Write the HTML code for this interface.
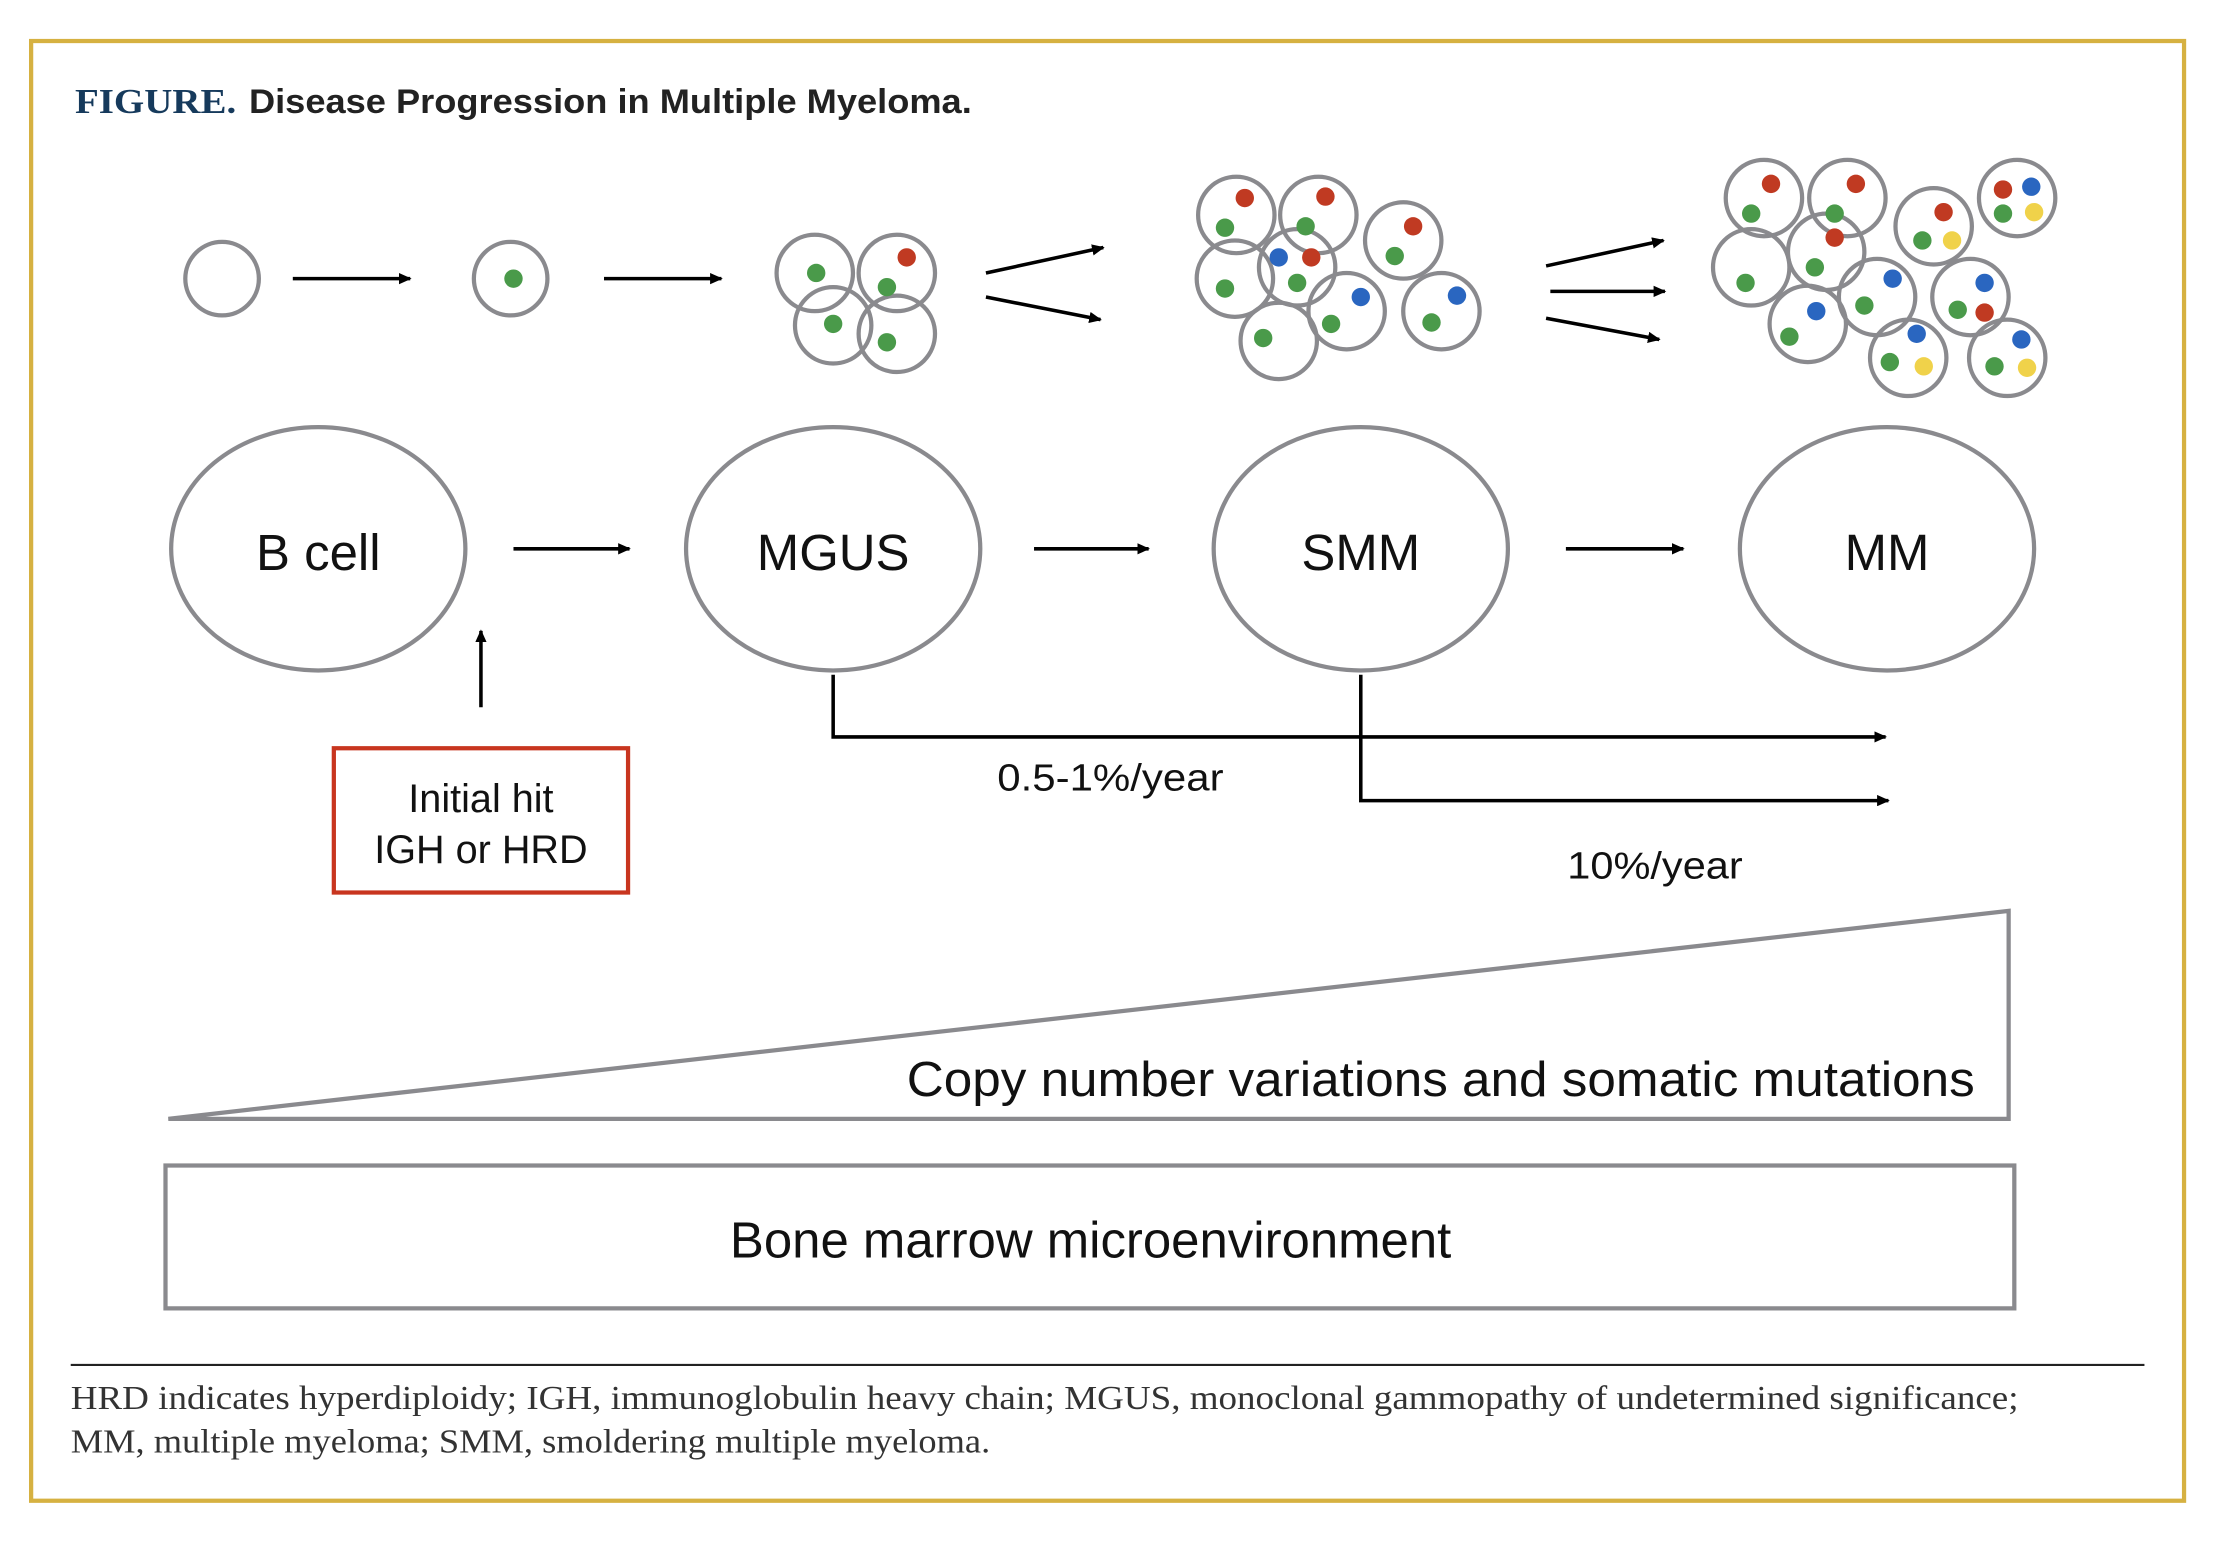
<!DOCTYPE html>
<html><head><meta charset="utf-8"><style>html,body{margin:0;padding:0;background:#fff}svg{display:block}</style></head><body>
<svg width="2218" height="1546" viewBox="0 0 1568 1093" preserveAspectRatio="none" xmlns="http://www.w3.org/2000/svg">
<defs><marker id="a" markerWidth="10" markerHeight="8" refX="8" refY="4" orient="auto" markerUnits="userSpaceOnUse"><path d="M0,0 L9,4 L0,8 z" fill="#000"/></marker></defs>
<rect x="22" y="29" width="1522" height="1032" fill="none" stroke="#d6b141" stroke-width="3"/>
<text x="53" y="80" font-family="Liberation Serif, serif" font-weight="bold" font-size="25" fill="#163a5c" textLength="114" lengthAdjust="spacingAndGlyphs">FIGURE.</text>
<text x="176" y="80" font-family="Liberation Sans, sans-serif" font-weight="bold" font-size="24" fill="#222" textLength="511" lengthAdjust="spacingAndGlyphs">Disease Progression in Multiple Myeloma.</text>
<g fill="none" stroke="#8a8a8e" stroke-width="3">
<circle cx="157" cy="197" r="26"/><circle cx="361" cy="197" r="26"/>
<circle cx="576" cy="193" r="27"/><circle cx="634" cy="193" r="27"/><circle cx="589" cy="230" r="27"/><circle cx="634" cy="236" r="27"/>
<circle cx="874" cy="152" r="27"/><circle cx="932" cy="152" r="27"/><circle cx="992" cy="170" r="27"/><circle cx="873" cy="197" r="27"/><circle cx="917" cy="189" r="27"/><circle cx="952" cy="220" r="27"/><circle cx="904" cy="241" r="27"/><circle cx="1019" cy="220" r="27"/>
<circle cx="1247" cy="140" r="27"/><circle cx="1306" cy="140" r="27"/><circle cx="1367" cy="160" r="27"/><circle cx="1426" cy="140" r="27"/><circle cx="1238" cy="189" r="27"/><circle cx="1291" cy="178" r="27"/><circle cx="1327" cy="210" r="27"/><circle cx="1393" cy="210" r="27"/><circle cx="1278" cy="229" r="27"/><circle cx="1349" cy="253" r="27"/><circle cx="1419" cy="253" r="27"/>
</g>
<g>
<g fill="#4a9a4a">
<circle cx="363" cy="197" r="6.5"/><circle cx="577" cy="193" r="6.5"/><circle cx="627" cy="203" r="6.5"/><circle cx="589" cy="229" r="6.5"/><circle cx="627" cy="242" r="6.5"/>
<circle cx="866" cy="161" r="6.5"/><circle cx="923" cy="160" r="6.5"/><circle cx="986" cy="181" r="6.5"/><circle cx="866" cy="204" r="6.5"/><circle cx="917" cy="200" r="6.5"/><circle cx="941" cy="229" r="6.5"/><circle cx="893" cy="239" r="6.5"/><circle cx="1012" cy="228" r="6.5"/>
<circle cx="1238" cy="151" r="6.5"/><circle cx="1297" cy="151" r="6.5"/><circle cx="1359" cy="170" r="6.5"/><circle cx="1416" cy="151" r="6.5"/><circle cx="1234" cy="200" r="6.5"/><circle cx="1283" cy="189" r="6.5"/><circle cx="1318" cy="216" r="6.5"/><circle cx="1384" cy="219" r="6.5"/><circle cx="1265" cy="238" r="6.5"/><circle cx="1336" cy="256" r="6.5"/><circle cx="1410" cy="259" r="6.5"/>
</g>
<g fill="#c03a22">
<circle cx="641" cy="182" r="6.5"/><circle cx="880" cy="140" r="6.5"/><circle cx="937" cy="139" r="6.5"/><circle cx="999" cy="160" r="6.5"/><circle cx="927" cy="182" r="6.5"/>
<circle cx="1252" cy="130" r="6.5"/><circle cx="1312" cy="130" r="6.5"/><circle cx="1374" cy="150" r="6.5"/><circle cx="1416" cy="134" r="6.5"/><circle cx="1297" cy="168" r="6.5"/><circle cx="1403" cy="221" r="6.5"/>
</g>
<g fill="#2a66c0">
<circle cx="904" cy="182" r="6.5"/><circle cx="962" cy="210" r="6.5"/><circle cx="1030" cy="209" r="6.5"/>
<circle cx="1436" cy="132" r="6.5"/><circle cx="1338" cy="197" r="6.5"/><circle cx="1403" cy="200" r="6.5"/><circle cx="1284" cy="220" r="6.5"/><circle cx="1355" cy="236" r="6.5"/><circle cx="1429" cy="240" r="6.5"/>
</g>
<g fill="#f0d24a">
<circle cx="1380" cy="170" r="6.5"/><circle cx="1438" cy="150" r="6.5"/><circle cx="1360" cy="259" r="6.5"/><circle cx="1433" cy="260" r="6.5"/>
</g>
</g>
<g stroke="#000" stroke-width="2.5" marker-end="url(#a)">
<line x1="207" y1="197" x2="290" y2="197"/><line x1="427" y1="197" x2="510" y2="197"/>
<line x1="697" y1="193" x2="780" y2="175"/><line x1="697" y1="210" x2="778" y2="226"/>
<line x1="1093" y1="188" x2="1176" y2="170"/><line x1="1096" y1="206" x2="1177" y2="206"/><line x1="1093" y1="225" x2="1173" y2="240"/>
<line x1="363" y1="388" x2="445" y2="388"/><line x1="731" y1="388" x2="812" y2="388"/><line x1="1107" y1="388" x2="1190" y2="388"/>
<line x1="340" y1="500" x2="340" y2="446"/>
<polyline fill="none" points="589,477 589,521 1333,521"/>
<polyline fill="none" points="962,477 962,566 1335,566"/>
</g>
<g fill="none" stroke="#8a8a8e" stroke-width="3">
<ellipse cx="225" cy="388" rx="104" ry="86"/><ellipse cx="589" cy="388" rx="104" ry="86"/><ellipse cx="962" cy="388" rx="104" ry="86"/><ellipse cx="1334" cy="388" rx="104" ry="86"/>
<polygon points="119,791 1420,644 1420,791"/>
<rect x="117" y="824" width="1307" height="101"/>
</g>
<rect x="236" y="529" width="208" height="102" fill="none" stroke="#c8351f" stroke-width="3"/>
<g font-family="Liberation Sans, sans-serif" fill="#111" text-anchor="middle">
<text x="225" y="403" font-size="36">B cell</text><text x="589" y="403" font-size="36">MGUS</text><text x="962" y="403" font-size="36">SMM</text><text x="1334" y="403" font-size="36">MM</text>
<text x="340" y="574" font-size="28">Initial hit</text><text x="340" y="610" font-size="28">IGH or HRD</text>
<text x="785" y="559" font-size="27" textLength="160" lengthAdjust="spacingAndGlyphs">0.5-1%/year</text><text x="1170" y="621" font-size="27" textLength="124" lengthAdjust="spacingAndGlyphs">10%/year</text>
<text x="641" y="775" font-size="35" text-anchor="start" textLength="755" lengthAdjust="spacingAndGlyphs">Copy number variations and somatic mutations</text>
<text x="516" y="889" font-size="36" text-anchor="start" textLength="510" lengthAdjust="spacingAndGlyphs">Bone marrow microenvironment</text>
</g>
<line x1="50" y1="965" x2="1516" y2="965" stroke="#222" stroke-width="1.5"/>
<g font-family="Liberation Serif, serif" font-size="24" fill="#333">
<text x="50" y="996" textLength="1377" lengthAdjust="spacingAndGlyphs">HRD indicates hyperdiploidy; IGH, immunoglobulin heavy chain; MGUS, monoclonal gammopathy of undetermined significance;</text>
<text x="50" y="1027" textLength="650" lengthAdjust="spacingAndGlyphs">MM, multiple myeloma; SMM, smoldering multiple myeloma.</text>
</g>
</svg>
</body></html>
